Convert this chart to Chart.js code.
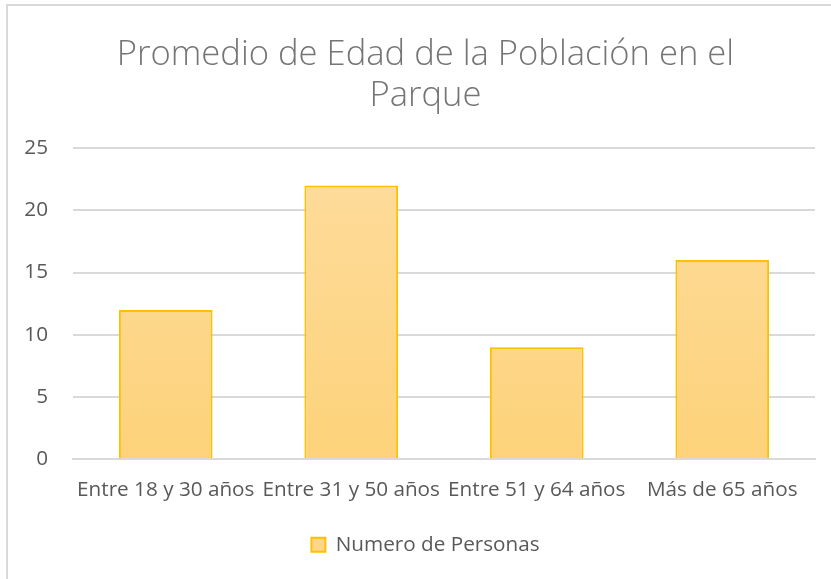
<!DOCTYPE html>
<html lang="es">
<head>
<meta charset="UTF-8">
<title>Promedio de Edad de la Población en el Parque</title>
<script src="https://cdn.jsdelivr.net/npm/chart.js@4.4.1/dist/chart.umd.min.js"></script>
<style>
  html, body { margin: 0; padding: 0; background: #fff; }
  .frame { position: absolute; left: 6px; top: 4px; width: 825px; height: 575px;
           border-left: 2px solid #d9d9d9; border-top: 2px solid #d9d9d9; box-sizing: border-box; }
  .chart-box { position: absolute; left: 0; top: 0; width: 831px; height: 579px; }
</style>
</head>
<body>
<div class="frame"></div>
<div class="chart-box"><canvas id="chart"></canvas></div>
<script>
  const categories = ['Entre 18 y 30 años', 'Entre 31 y 50 años', 'Entre 51 y 64 años', 'Más de 65 años'];
  const personas = [12, 22, 9, 16];
  const yTicks = [0, 5, 10, 15, 20, 25];

  const textGrey = '#595959';
  const labelFont = { family: 'Open Sans', size: 20.7 };

  function barFill(context) {
    const area = context.chart.chartArea;
    if (!area) return '#fdd68a';
    const g = context.chart.ctx.createLinearGradient(0, area.top, 0, area.bottom);
    g.addColorStop(0, '#fddc9d');
    g.addColorStop(1, '#fdd27a');
    return g;
  }

  // title and legend sit a bit right of centre in the original, so the
  // y axis is kept narrow for layout and widened again for its labels
  const widenYAxis = {
    id: 'widenYAxis',
    afterLayout(chart) {
      const y = chart.scales.y;
      y.left = 12;
      y.width = y.right - y.left;
    }
  };

  new Chart(document.getElementById('chart'), {
    type: 'bar',
    data: {
      labels: categories,
      datasets: [{
        label: 'Numero de Personas',
        data: personas,
        backgroundColor: barFill,
        borderColor: '#ffc000',
        borderWidth: 2,
        borderSkipped: 'bottom',
        categoryPercentage: 1,
        barPercentage: 0.505
      }]
    },
    options: {
      responsive: true,
      maintainAspectRatio: false,
      animation: false,
      layout: { padding: { left: 36, right: 16, top: 34, bottom: 14 } },
      plugins: {
        title: {
          display: true,
          text: ['Promedio de Edad de la Población en el', 'Parque'],
          color: '#757575',
          font: { family: 'Open Sans', size: 34.6, weight: '300', lineHeight: 1.2 },
          padding: { top: 0, bottom: 31 }
        },
        legend: {
          position: 'bottom',
          labels: {
            color: textGrey,
            font: labelFont,
            boxWidth: 14,
            boxHeight: 14,
            padding: 19,
            generateLabels: (chart) => [{
              text: chart.data.datasets[0].label,
              fillStyle: '#fdd68a',
              strokeStyle: '#ffc000',
              lineWidth: 2,
              fontColor: textGrey,
              datasetIndex: 0
            }]
          }
        },
        tooltip: { enabled: false }
      },
      scales: {
        x: {
          grid: { display: false, drawTicks: false },
          border: { display: true, color: '#d9d9d9', width: 2 },
          ticks: { color: textGrey, font: labelFont, padding: 18, maxRotation: 0, autoSkip: false },
          afterFit: (axis) => { axis.height = 56; }
        },
        y: {
          min: 0,
          max: 25,
          afterBuildTicks: (axis) => { axis.ticks = yTicks.map(v => ({ value: v })); },
          grid: { color: '#d9d9d9', lineWidth: 2, drawTicks: false },
          border: { display: false },
          ticks: { color: textGrey, font: labelFont, padding: 25 },
          afterFit: (axis) => { axis.width = 37; }
        }
      }
    },
    plugins: [widenYAxis]
  });
</script>
</body>
</html>
